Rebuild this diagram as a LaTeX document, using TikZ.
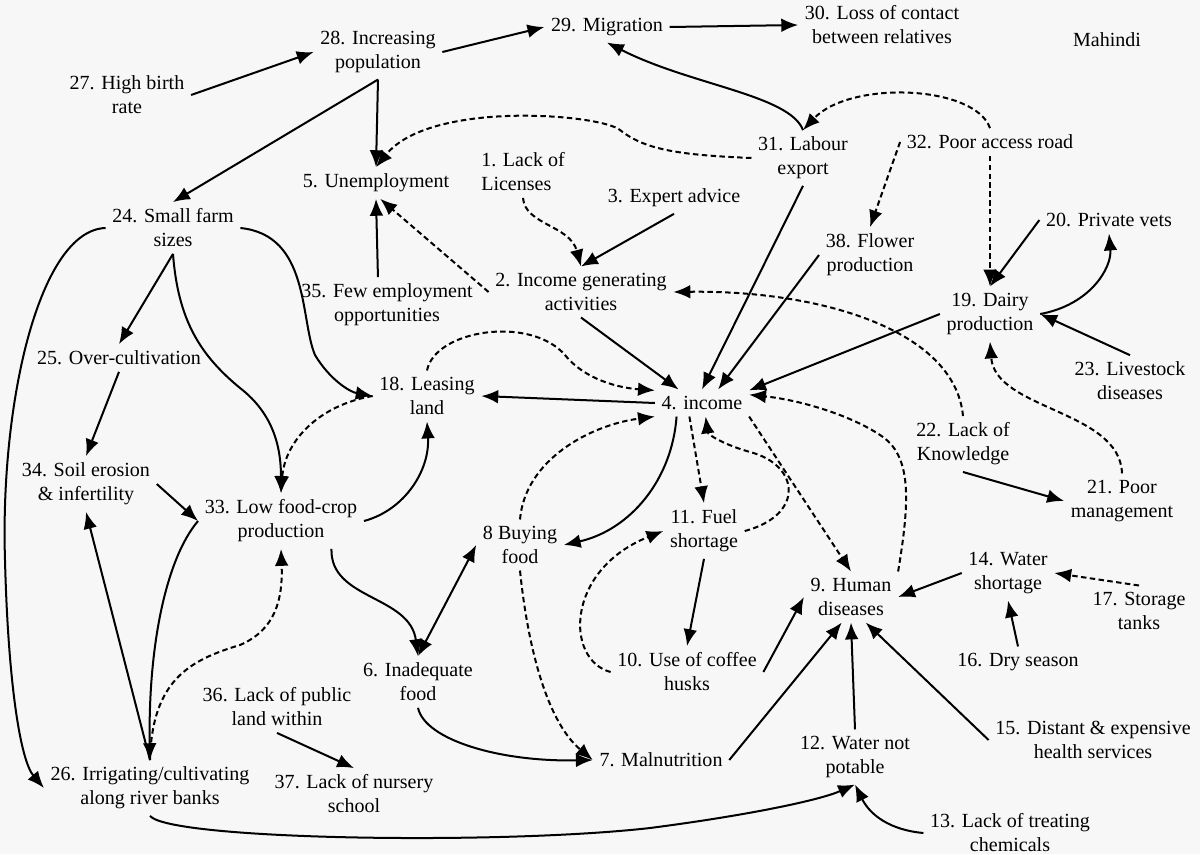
\documentclass[tikz,border=0pt]{standalone}
\usepackage{fontspec}
\setmainfont{Liberation Serif}
\usepackage{tikz}
\usetikzlibrary{arrows.meta}
\tikzset{
	factor/.style={align=center, inner sep=3pt, font=\fontsize{9.5}{11.4}\selectfont},
	posarrow/.style={-{Latex[length=8pt,width=6.5pt]}, line width=0.95pt},
	negarrow/.style={posarrow, dash pattern=on 2.6pt off 1.6pt},
	twoway/.style={{Latex[length=8pt,width=6.5pt]}-{Latex[length=8pt,width=6.5pt]}, line width=0.95pt}
}
\begin{document}
\begin{tikzpicture}[x=0.0166667cm, y=-0.0166667cm]
	\fill[black!3] (0,0) rectangle (1200,854);
	\useasboundingbox (0,0) rectangle (1200,854);

	\node[factor] (birth) at (127,95) {27. High birth\\rate};
	\node[factor] (population) at (378,52) {28. Increasing\\population};
	\node[factor] (migration) at (607,27) {29. Migration};
	\node[factor] (contact) at (882,25) {30. Loss of contact\\between relatives};
	\node[factor] (title) at (1107,40) {Mahindi};
	\node[factor, align=left] (licenses) at (523,172) {1. Lack of\\Licenses};
	\node[factor] (expert) at (674,198) {3. Expert advice};
	\node[factor] (unemp) at (376,183) {5. Unemployment};
	\node[factor] (labour) at (803,158) {31. Labour\\export};
	\node[factor] (road) at (990,142) {32. Poor access road};
	\node[factor] (farmsize) at (173,228) {24. Small farm\\sizes};
	\node[factor] (flower) at (870,255) {38. Flower\\production};
	\node[factor] (vets) at (1109,220) {20. Private vets};
	\node[factor] (incgen) at (581,292) {2. Income generating\\activities};
	\node[factor] (fewjobs) at (387,305) {35. Few employment\\opportunities};
	\node[factor] (dairy) at (990,314) {19. Dairy\\production};
	\node[factor] (overcult) at (119,358) {25. Over-cultivation};
	\node[factor] (livestock) at (1130,381) {23. Livestock\\diseases};
	\node[factor] (leasing) at (427,396) {18. Leasing\\land};
	\node[factor] (income) at (702,403) {4. income};
	\node[factor] (knowledge) at (963,444) {22. Lack of\\Knowledge};
	\node[factor] (erosion) at (86,484) {34. Soil erosion\\\& infertility};
	\node[factor] (poormgmt) at (1122,501) {21. Poor\\management};
	\node[factor] (lowcrop) at (281,521) {33. Low food-crop\\production};
	\node[factor] (buyfood) at (520,545) {8 Buying\\food};
	\node[factor] (fuel) at (704,531) {11. Fuel\\shortage};
	\node[factor] (watshort) at (1008,573) {14. Water\\shortage};
	\node[factor] (humdis) at (851,597) {9. Human\\diseases};
	\node[factor] (tanks) at (1139,611) {17. Storage\\tanks};
	\node[factor] (husks) at (687,672) {10. Use of coffee\\husks};
	\node[factor] (dry) at (1018,662) {16. Dry season};
	\node[factor] (inadfood) at (418,682) {6. Inadequate\\food};
	\node[factor] (publand) at (277,707) {36. Lack of public\\land within};
	\node[factor] (health) at (1093,740) {15. Distant \& expensive\\health services};
	\node[factor] (malnut) at (661,760) {7. Malnutrition};
	\node[factor] (water) at (855,757) {12. Water not\\potable};
	\node[factor] (irrig) at (150,788) {26. Irrigating/cultivating\\along river banks};
	\node[factor] (nursery) at (354,794) {37. Lack of nursery\\school};
	\node[factor] (chem) at (1010,833) {13. Lack of treating\\chemicals};

	\draw[posarrow] (birth.east) -- (population.west);
	\draw[posarrow] (population.east) -- (migration.west);
	\draw[posarrow] (migration.east) -- (contact.west);
	\draw[posarrow] (population.south) -- (unemp.north);
	\draw[posarrow] (population.south) -- (farmsize.north);
	\draw[posarrow] (labour.north) .. controls (790,95) and (690,85) .. (migration.south);
	\draw[negarrow] (labour.west) .. controls (680,155) and (645,150) .. (620,130) .. controls (600,114) and (430,100) .. (unemp.north);
	\draw[negarrow] (road.north) .. controls (975,85) and (850,80) .. (labour.north);
	\draw[negarrow] (road.west) -- (flower.north);
	\draw[negarrow] (road.south) -- (dairy.north);
	\draw[posarrow] (vets.west) -- (dairy.north);
	\draw[posarrow] (dairy.east) .. controls (1090,305) and (1112,268) .. (vets.south);
	\draw[posarrow] (livestock.north) -- (dairy.east);
	\draw[negarrow] (poormgmt.north) .. controls (1120,410) and (995,410) .. (dairy.south);
	\draw[posarrow] (knowledge.south) -- (poormgmt.west);
	\draw[negarrow] (knowledge.north) .. controls (955,330) and (820,290) .. (incgen.east);
	\draw[posarrow] (dairy.west) -- (income.15);
	\draw[posarrow] (labour.south) -- (income.north);
	\draw[posarrow] (flower.west) -- (income.40);
	\draw[posarrow] (expert.south) -- (incgen.north);
	\draw[negarrow] (licenses.south) .. controls (525,225) and (570,225) .. (incgen.north);
	\draw[negarrow] (incgen.west) -- (unemp.-75);
	\draw[posarrow] (fewjobs.108) -- (unemp.south);
	\draw[posarrow] (incgen.south) -- (income.150);
	\draw[negarrow] (leasing.north) .. controls (435,330) and (530,315) .. (565,355) .. controls (585,380) and (620,388) .. (income.165);
	\draw[posarrow] (income.west) -- (leasing.east);
	\draw[negarrow] (buyfood.north) .. controls (525,460) and (590,425) .. (income.south west);
	\draw[posarrow] (income.208) .. controls (672,480) and (630,530) .. (buyfood.east);
	\draw[negarrow] (income.227) -- (fuel.north);
	\draw[negarrow] (fuel.east) .. controls (805,515) and (800,465) .. (750,452) .. controls (725,445) and (708,435) .. (income.285);
	\draw[negarrow] (income.south east) -- (humdis.north);
	\draw[negarrow] (humdis.north east) .. controls (910,500) and (912,455) .. (880,435) .. controls (850,415) and (800,400) .. (income.10);
	\draw[posarrow] (watshort.west) -- (humdis.east);
	\draw[negarrow] (tanks.north) -- (watshort.east);
	\draw[posarrow] (dry.north) -- (watshort.south);
	\draw[posarrow] (health.west) -- (humdis.-60);
	\draw[posarrow] (water.north) -- (humdis.south);
	\draw[posarrow] (malnut.east) -- (humdis.-110);
	\draw[posarrow] (husks.east) -- (humdis.west);
	\draw[posarrow] (fuel.south) -- (husks.north);
	\draw[negarrow] (husks.west) .. controls (565,660) and (565,570) .. (fuel.west);
	\draw[twoway] (buyfood.west) -- (inadfood.north);
	\draw[posarrow] (lowcrop.-29) .. controls (330,600) and (410,595) .. (inadfood.north);
	\draw[posarrow] (lowcrop.east) .. controls (405,510) and (430,470) .. (leasing.south);
	\draw[posarrow] (farmsize.east) .. controls (310,235) and (300,320) .. (315,355) .. controls (330,380) and (350,392) .. (leasing.west);
	\draw[posarrow] (farmsize.south) -- (overcult.north);
	\draw[posarrow] (farmsize.south) .. controls (178,320) and (200,355) .. (240,388) .. controls (275,415) and (281,450) .. (lowcrop.north);
	\draw[negarrow] (leasing.west) .. controls (320,405) and (285,440) .. (lowcrop.north);
	\draw[posarrow] (overcult.south) -- (erosion.north);
	\draw[posarrow] (erosion.east) -- (lowcrop.west);
	\draw[posarrow] (irrig.north) -- (erosion.south);
	\draw[posarrow] (lowcrop.west) .. controls (165,560) and (148,650) .. (irrig.north);
	\draw[negarrow] (irrig.north) .. controls (152,680) and (190,660) .. (240,645) .. controls (275,630) and (283,600) .. (lowcrop.south);
	\draw[posarrow] (farmsize.west) .. controls (40,230) and (0,400) .. (5,560) .. controls (8,680) and (20,760) .. (irrig.west);
	\draw[posarrow] (publand.south) -- (nursery.north);
	\draw[posarrow] (irrig.south) .. controls (170,840) and (500,845) .. (650,828) .. controls (750,815) and (820,800) .. (water.south);
	\draw[posarrow] (chem.west) .. controls (890,830) and (870,815) .. (water.south);
	\draw[negarrow] (buyfood.south) .. controls (527,640) and (545,720) .. (malnut.west);
	\draw[posarrow] (inadfood.south) .. controls (425,740) and (500,762) .. (malnut.west);
\end{tikzpicture}
\end{document}
